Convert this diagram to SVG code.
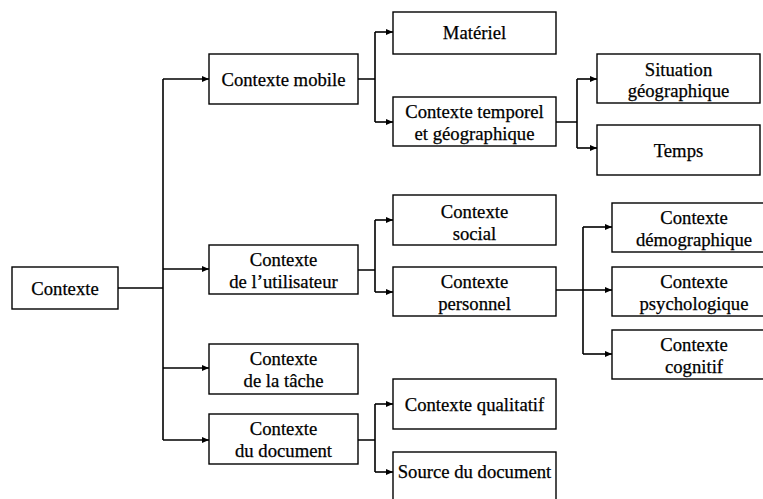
<svg xmlns="http://www.w3.org/2000/svg" width="763" height="499" viewBox="0 0 763 499">
<defs>
<style>
.box{fill:#fff;stroke:#000;stroke-width:1.4}
.lbl{font-family:"Liberation Serif","Times New Roman",serif;font-size:18.7px;fill:#000;stroke:#000;stroke-width:0.25;text-anchor:middle}
.con{fill:none;stroke:#000;stroke-width:1.6}
</style>
<marker id="ah" markerUnits="userSpaceOnUse" markerWidth="7" markerHeight="6" refX="7" refY="3" orient="auto">
<path d="M0,0 L7,3 L0,6 z" fill="#000"/>
</marker>
</defs>
<rect width="763" height="499" fill="#fff"/>
<g id="connectors">
<path class="con" d="M118,288 H163"/>
<path class="con" d="M163,79 V440"/>
<path class="con" d="M163,79 H209" marker-end="url(#ah)"/>
<path class="con" d="M163,269 H209" marker-end="url(#ah)"/>
<path class="con" d="M163,368 H209" marker-end="url(#ah)"/>
<path class="con" d="M163,440 H209" marker-end="url(#ah)"/>
<path class="con" d="M358,79 H375 M375,32 V122"/>
<path class="con" d="M375,32 H393" marker-end="url(#ah)"/>
<path class="con" d="M375,122 H393" marker-end="url(#ah)"/>
<path class="con" d="M358,270 H375 M375,220 V292"/>
<path class="con" d="M375,220 H393" marker-end="url(#ah)"/>
<path class="con" d="M375,292 H393" marker-end="url(#ah)"/>
<path class="con" d="M358,440 H375 M375,404 V472"/>
<path class="con" d="M375,404 H393" marker-end="url(#ah)"/>
<path class="con" d="M375,472 H393" marker-end="url(#ah)"/>
<path class="con" d="M556,122 H577 M577,79 V148"/>
<path class="con" d="M577,79 H597" marker-end="url(#ah)"/>
<path class="con" d="M577,148 H597" marker-end="url(#ah)"/>
<path class="con" d="M556,290 H583 M583,227 V354"/>
<path class="con" d="M583,227 H612" marker-end="url(#ah)"/>
<path class="con" d="M583,290 H612" marker-end="url(#ah)"/>
<path class="con" d="M583,354 H612" marker-end="url(#ah)"/>
</g>
<g id="contexte"><rect class="box" x="12" y="267" width="106" height="42"/><text class="lbl" x="65" y="295">Contexte</text></g>
<g id="mobile"><rect class="box" x="209" y="54" width="149" height="50"/><text class="lbl" x="283.5" y="86">Contexte mobile</text></g>
<g id="utilisateur"><rect class="box" x="209" y="245" width="149" height="49"/><text class="lbl" x="283.5" y="266">Contexte</text><text class="lbl" x="283.5" y="288">de l’utilisateur</text></g>
<g id="tache"><rect class="box" x="209" y="344" width="149" height="50"/><text class="lbl" x="283.5" y="365">Contexte</text><text class="lbl" x="283.5" y="387">de la tâche</text></g>
<g id="document"><rect class="box" x="209" y="414" width="149" height="50"/><text class="lbl" x="283.5" y="435">Contexte</text><text class="lbl" x="283.5" y="457">du document</text></g>
<g id="materiel"><rect class="box" x="393" y="12" width="163" height="42"/><text class="lbl" x="474.5" y="39">Matériel</text></g>
<g id="temporel"><rect class="box" x="393" y="97" width="163" height="49"/><text class="lbl" x="474.5" y="118">Contexte temporel</text><text class="lbl" x="474.5" y="140">et géographique</text></g>
<g id="social"><rect class="box" x="393" y="195" width="163" height="50"/><text class="lbl" x="474.5" y="218">Contexte</text><text class="lbl" x="474.5" y="240">social</text></g>
<g id="personnel"><rect class="box" x="393" y="267" width="163" height="49"/><text class="lbl" x="474.5" y="288">Contexte</text><text class="lbl" x="474.5" y="310">personnel</text></g>
<g id="qualitatif"><rect class="box" x="393" y="379" width="163" height="50"/><text class="lbl" x="474.5" y="411">Contexte qualitatif</text></g>
<g id="source"><rect class="box" x="393" y="452" width="163" height="50"/><text class="lbl" x="474.5" y="478">Source du document</text></g>
<g id="situation"><rect class="box" x="597" y="54" width="163" height="49"/><text class="lbl" x="678.5" y="76">Situation</text><text class="lbl" x="678.5" y="97">géographique</text></g>
<g id="temps"><rect class="box" x="597" y="125" width="163" height="50"/><text class="lbl" x="678.5" y="157">Temps</text></g>
<g id="demographique"><rect class="box" x="612" y="203" width="164" height="49"/><text class="lbl" x="694" y="224">Contexte</text><text class="lbl" x="694" y="246">démographique</text></g>
<g id="psychologique"><rect class="box" x="612" y="267" width="164" height="49"/><text class="lbl" x="694" y="288">Contexte</text><text class="lbl" x="694" y="310">psychologique</text></g>
<g id="cognitif"><rect class="box" x="612" y="330" width="164" height="49"/><text class="lbl" x="694" y="351">Contexte</text><text class="lbl" x="694" y="373">cognitif</text></g>
</svg>
